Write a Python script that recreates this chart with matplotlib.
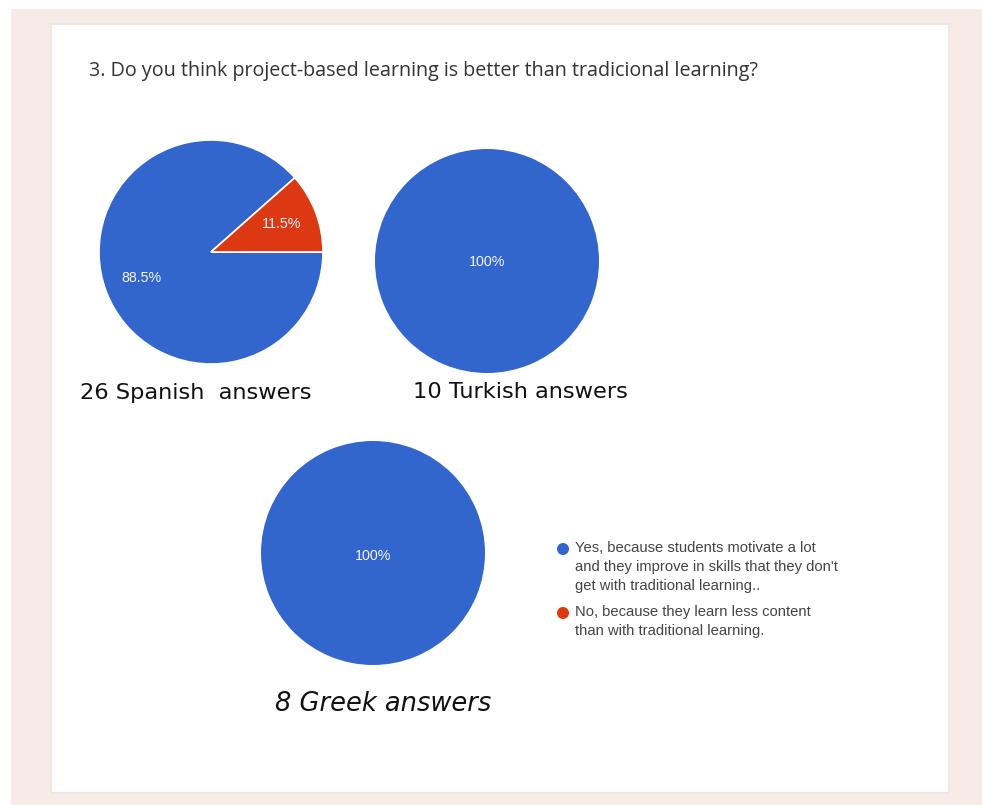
import matplotlib
matplotlib.use("Agg")
import matplotlib.pyplot as plt
from matplotlib.patches import Rectangle, Circle

# ---- data ----
title = "3. Do you think project-based learning is better than tradicional learning?"
answer_labels = [
    "Yes, because students motivate a lot\nand they improve in skills that they don't\nget with traditional learning..",
    "No, because they learn less content\nthan with traditional learning.",
]
spanish_counts = [23, 3]
turkish_counts = [10, 0]
greek_counts = [8, 0]
captions = ["26 Spanish  answers", "10 Turkish answers", "8 Greek answers"]

colors = ["#3366cc", "#dc3912"]

W, H = 982, 805
fig = plt.figure(figsize=(W / 100, H / 100), dpi=100)
fig.patch.set_facecolor("#f6ebe6")

def px_rect(x0, y0, x1, y1):
    return (x0 / W, 1 - y1 / H, (x1 - x0) / W, (y1 - y0) / H)

# white strips at top / left, white card
bg = fig.add_axes([0, 0, 1, 1])
bg.set_xlim(0, W)
bg.set_ylim(H, 0)
bg.axis("off")
bg.add_patch(Rectangle((0, 0), W, 9, color="white", lw=0))
bg.add_patch(Rectangle((0, 0), 11, H, color="white", lw=0))
bg.add_patch(Rectangle((50, 23), 900, 771, color="#efe6e1", lw=0))
bg.add_patch(Rectangle((52, 25), 896, 767, color="white", lw=0))

bg.text(89, 71, title, fontsize=14.2, color="#333333", va="center", ha="left",
        family="Open Sans")


def pie_at(cx, cy, r, counts, pct_pos):
    ax = fig.add_axes(px_rect(cx - r, cy - r, cx + r, cy + r))
    total = sum(counts)
    vals = [c for c in counts if c > 0]
    cols = [colors[i] for i, c in enumerate(counts) if c > 0]
    start = 360.0 * counts[1] / total if counts[1] > 0 else 90
    ax.pie(vals, colors=cols, startangle=start, counterclock=True,
           wedgeprops=dict(edgecolor="white" if len(vals) > 1 else cols[0],
                           linewidth=1.2 if len(vals) > 1 else 0))
    ax.set_xlim(-1, 1)
    ax.set_ylim(-1, 1)
    ax.set_aspect("equal")
    for (lx, ly), c in zip(pct_pos, counts):
        if c == 0:
            continue
        pct = 100.0 * c / total
        s = "100%" if pct == 100 else f"{pct:.1f}%"
        ax.text((lx - cx) / r, -(ly - cy) / r, s, color="#f4f4ff", fontsize=10.3,
                ha="center", va="center", family="Liberation Sans")
    return ax


pie_at(211, 252, 112, spanish_counts, [(141, 278), (282, 224)])
pie_at(487, 261, 112, turkish_counts, [(487, 262)])
pie_at(373, 553, 112, greek_counts, [(373, 556)])

cap_font = "DejaVu Sans"
bg.text(80, 393, captions[0], fontsize=16.2, color="#111111", ha="left", va="center",
        family=cap_font)
bg.text(413, 392, captions[1], fontsize=16.2, color="#111111", ha="left", va="center",
        family=cap_font)
bg.text(275, 704, captions[2], fontsize=18.5, color="#111111", ha="left", va="center",
        family=cap_font, style="italic")

# legend
bg.add_patch(Circle((563, 549), 6, color=colors[0], lw=0))
bg.add_patch(Circle((563, 613), 6, color=colors[1], lw=0))
bg.text(575, 541, answer_labels[0], fontsize=10.6, color="#444444", ha="left",
        va="top", family="Liberation Sans", linespacing=1.45)
bg.text(575, 605, answer_labels[1], fontsize=10.6, color="#444444", ha="left",
        va="top", family="Liberation Sans", linespacing=1.45)

fig.savefig("out.png", dpi=100, facecolor=fig.get_facecolor())
